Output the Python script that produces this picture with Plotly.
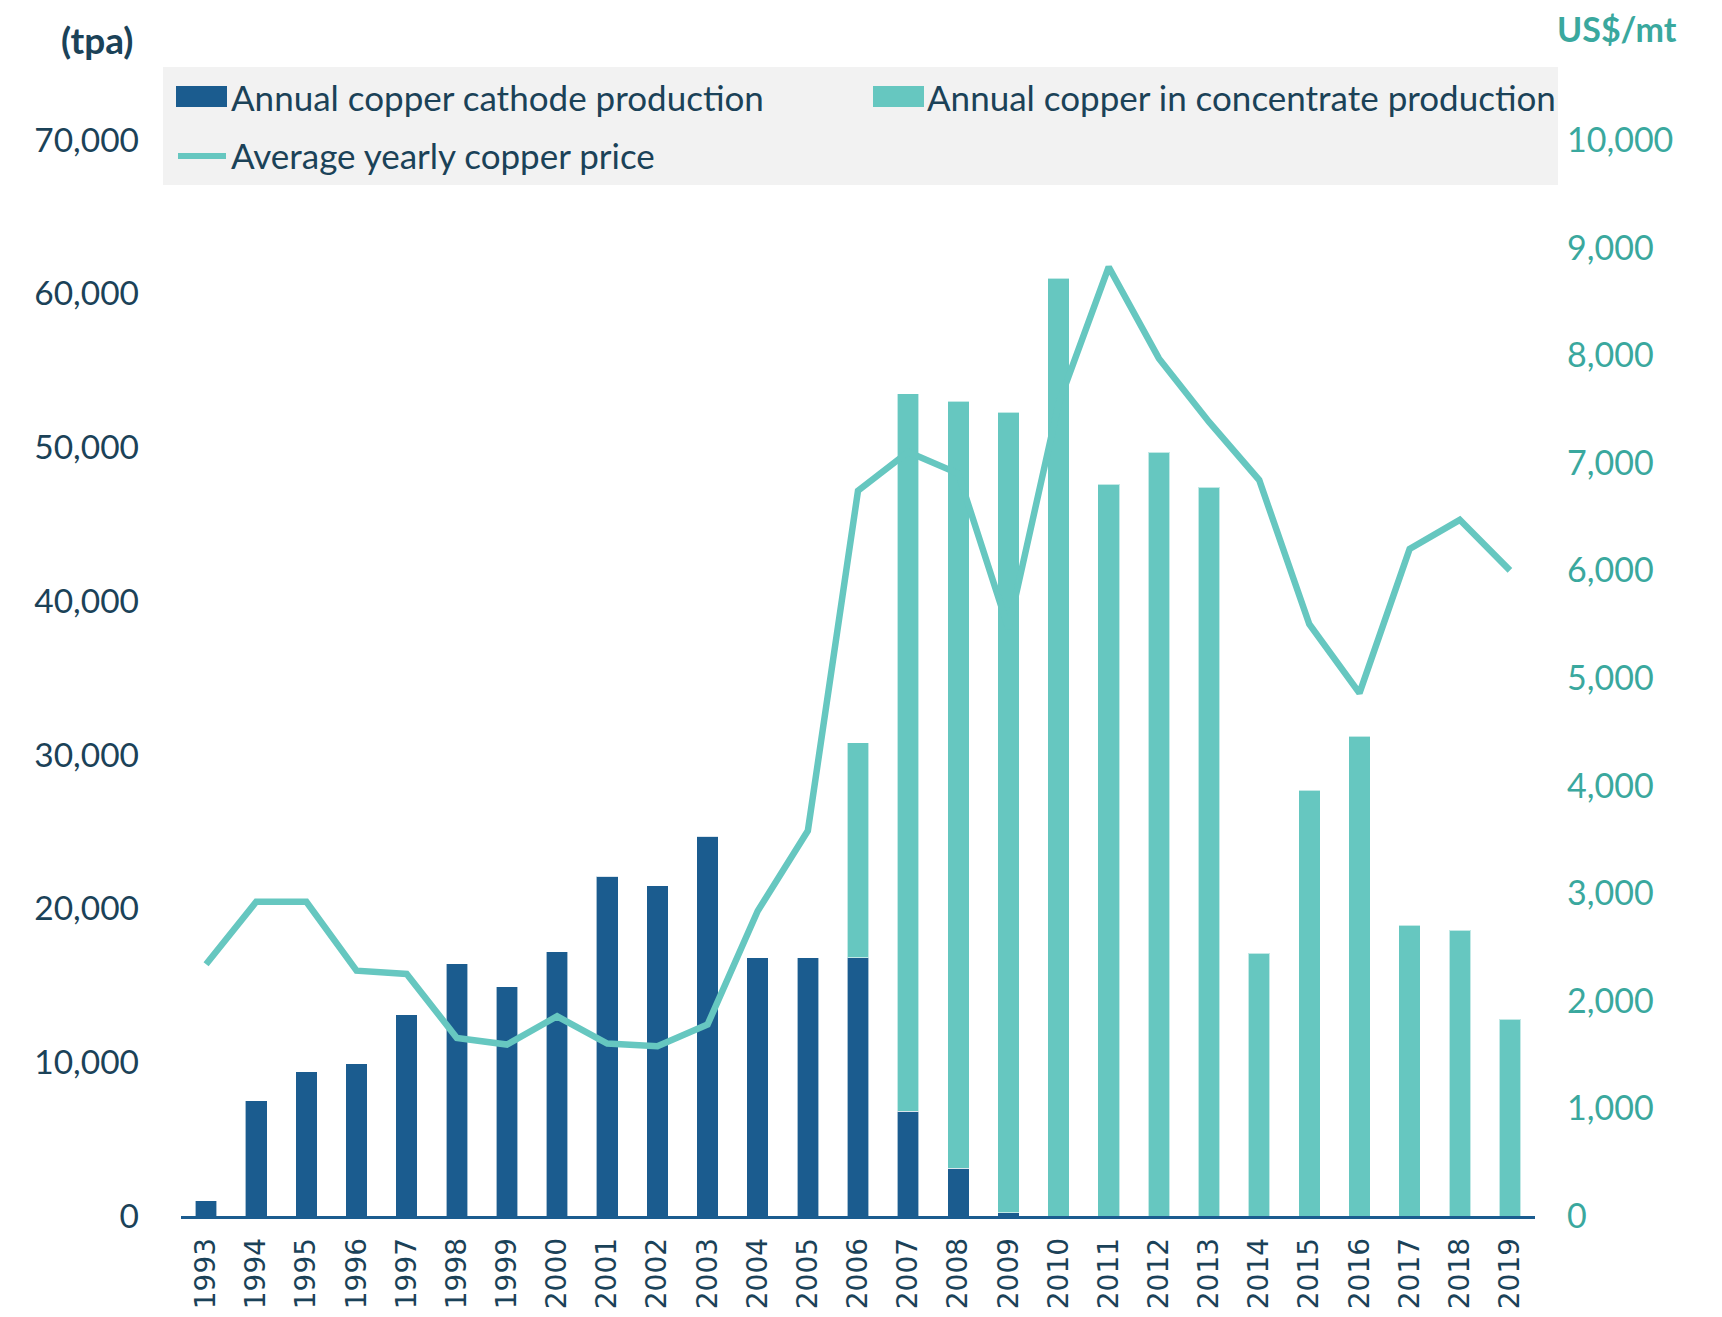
import plotly.graph_objects as go

years = [str(y) for y in range(1993, 2020)]

# tonnes per annum
cathode_tpa = [1000, 7500, 9400, 9900, 13100, 16400, 14900, 17200, 22100, 21500,
               24700, 16800, 16800, 16800, 6800, 3100, 200, 0, 0, 0,
               0, 0, 0, 0, 0, 0, 0]
concentrate_tpa = [0, 0, 0, 0, 0, 0, 0, 0, 0, 0,
                   0, 0, 0, 14000, 46700, 49900, 52100, 61000, 47600, 49700,
                   47400, 17100, 27700, 31200, 18900, 18600, 12800]

# US$/mt
copper_price = [2340, 2920, 2920, 2280, 2250, 1655, 1593, 1856, 1602, 1577,
                1779, 2834, 3580, 6740, 7100, 6900, 5460, 7550, 8820, 7970,
                7380, 6840, 5500, 4860, 6200, 6470, 6000]

left_ticks = list(range(0, 70001, 10000))
right_ticks = list(range(0, 10001, 1000))

DARK_BLUE = "#1B5C8F"
TEAL = "#66C7C0"
TEAL_TEXT = "#3AA89E"
TEXT = "#1B4258"
FONT = "Lato"

# the page body has an 8px margin, so the figure is drawn 8px in from the corner
OFF = 8
W, H = 1722 - 2 * OFF, 1317 - 2 * OFF
PLOT_X0, PLOT_X1 = 181, 1535       # screen pixels
PLOT_Y0, PLOT_Y1 = 140, 1216.5
L, T = PLOT_X0 - OFF, PLOT_Y0 - OFF
R, B = W - (PLOT_X1 - OFF), H - (PLOT_Y1 - OFF)
PW, PH = PLOT_X1 - PLOT_X0, PLOT_Y1 - PLOT_Y0


def px(x):
    """Screen x to paper x."""
    return (x - PLOT_X0) / PW


def py(y):
    """Screen y (from top) to paper y."""
    return (PLOT_Y1 - y) / PH


bar_line = dict(color="rgba(255,255,255,0.6)", width=1)

fig = go.Figure()
fig.add_trace(go.Bar(x=years, y=cathode_tpa, name="Annual copper cathode production",
                     marker=dict(color=DARK_BLUE, line=bar_line), width=0.43))
fig.add_trace(go.Bar(x=years, y=concentrate_tpa, name="Annual copper in concentrate production",
                     marker=dict(color=TEAL, line=bar_line), width=0.43))
fig.add_trace(go.Scatter(x=years, y=copper_price, name="Average yearly copper price",
                         mode="lines", line=dict(color=TEAL, width=6.5), yaxis="y2"))

# legend drawn by hand to match the boxed two-column layout
shapes = [
    dict(type="rect", xref="paper", yref="paper", x0=px(163), x1=px(1558), y0=py(185), y1=py(67),
         fillcolor="#F2F2F2", line=dict(width=0), layer="below"),
    dict(type="rect", xref="paper", yref="paper", x0=px(176), x1=px(227), y0=py(107), y1=py(86),
         fillcolor=DARK_BLUE, line=dict(width=0)),
    dict(type="rect", xref="paper", yref="paper", x0=px(873), x1=px(924), y0=py(107), y1=py(86),
         fillcolor=TEAL, line=dict(width=0)),
    dict(type="line", xref="paper", yref="paper", x0=px(178), x1=px(226), y0=py(156), y1=py(156),
         line=dict(color=TEAL, width=6)),
]

legend_font = dict(family=FONT, size=35, color=TEXT)
annotations = [
    dict(text="Annual copper cathode production", x=px(229), y=py(97)),
    dict(text="Annual copper in concentrate production", x=px(925), y=py(97)),
    dict(text="Average yearly copper price", x=px(229), y=py(155)),
]
for a in annotations:
    a.update(xref="paper", yref="paper", xanchor="left", yanchor="middle",
             showarrow=False, font=legend_font)

annotations += [
    dict(text="<b>(tpa)</b>", x=px(135), y=py(39), xref="paper", yref="paper",
         xanchor="right", yanchor="middle", showarrow=False,
         font=dict(family=FONT, size=37, color=TEXT)),
    dict(text="<b>US$/mt</b>", x=px(1679), y=py(28), xref="paper", yref="paper",
         xanchor="right", yanchor="middle", showarrow=False,
         font=dict(family=FONT, size=34, color=TEAL_TEXT)),
]

fig.update_layout(
    width=W, height=H,
    margin=dict(l=L, r=R, t=T, b=B),
    barmode="stack",
    showlegend=False,
    plot_bgcolor="white",
    paper_bgcolor="white",
    shapes=shapes,
    annotations=annotations,
    xaxis=dict(type="category", tickangle=-90, showgrid=False, automargin=False,
               showline=True, linecolor=DARK_BLUE, linewidth=2.5,
               ticks="", ticklabelstandoff=8,
               tickfont=dict(family="DejaVu Sans", size=28, color=TEXT)),
    yaxis=dict(range=[0, 70000], tickvals=left_ticks, tickformat=",",
               showgrid=False, zeroline=False, showline=False, ticks="",
               ticklabelstandoff=41, automargin=False,
               tickfont=dict(family=FONT, size=33.5, color=TEXT)),
    yaxis2=dict(range=[0, 10000], tickvals=right_ticks, tickformat=",",
                overlaying="y", side="right",
                showgrid=False, zeroline=False, showline=False, ticks="",
                ticklabelstandoff=31, automargin=False,
                tickfont=dict(family=FONT, size=34, color=TEAL_TEXT)),
)

fig.write_html("out.html")
